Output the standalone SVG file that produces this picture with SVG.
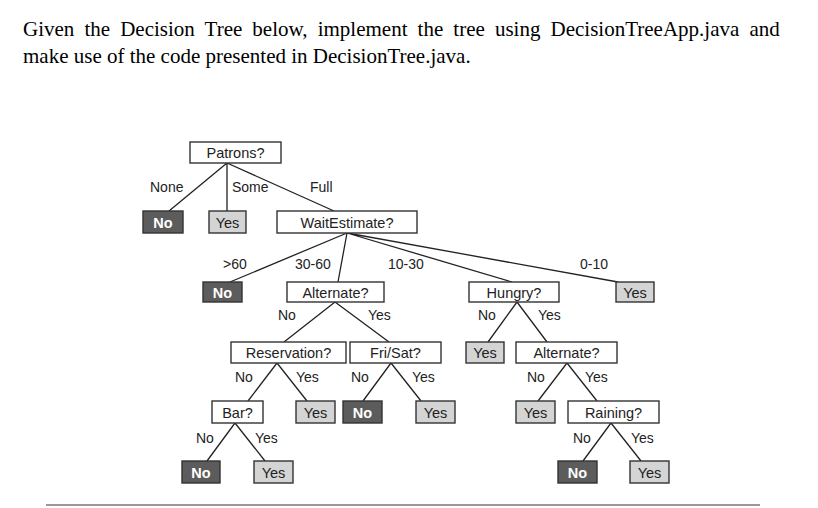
<svg xmlns="http://www.w3.org/2000/svg" width="818" height="508" viewBox="0 0 818 508">
<style>
.title{font-family:"Liberation Serif","Times New Roman",serif;font-size:21px;fill:#000}
.box{stroke:#333;stroke-width:1.4}
.q{fill:#fff}
.no{fill:#5c5c5c}
.yes{fill:#d4d4d4}
.t{font-family:"Liberation Sans",Arial,sans-serif;font-size:14.5px;fill:#222;text-anchor:middle}
.tn{font-family:"Liberation Sans",Arial,sans-serif;font-size:14.5px;fill:#fff;font-weight:bold;text-anchor:middle}
.lbl{font-family:"Liberation Sans",Arial,sans-serif;font-size:14px;fill:#222}
.edge{stroke:#222;stroke-width:1.3;fill:none}
</style>
<rect width="818" height="508" fill="#fff"/>
<text class="title" x="23" y="36" word-spacing="4.85">Given the Decision Tree below, implement the tree using DecisionTreeApp.java and</text>
<text class="title" x="23" y="62.5">make use of the code presented in DecisionTree.java.</text>

<g id="connectors">
<path class="edge" d="M227,163 L169,211 M227,163 L227,211 M227,163 L334,211"/>
<path class="edge" d="M347,233 L230,282 M347,233 L338,282 M347,233 L512,282 M347,233 L618,282"/>
<path class="edge" d="M335,302 L284,342 M335,302 L389,342"/>
<path class="edge" d="M517,302 L488,342 M517,302 L547,342"/>
<path class="edge" d="M277,363 L248,401 M277,363 L307,401"/>
<path class="edge" d="M391,363 L363,401 M391,363 L421,401"/>
<path class="edge" d="M567,363 L538,401 M567,363 L597,401"/>
<path class="edge" d="M235,423 L207,461 M235,423 L265,461"/>
<path class="edge" d="M611,423 L583,461 M611,423 L641,461"/>
<g id="edge-labels">
<text class="lbl" x="150" y="192">None</text>
<text class="lbl" x="232" y="192">Some</text>
<text class="lbl" x="310" y="192">Full</text>
<text class="lbl" x="223" y="268.5">&gt;60</text>
<text class="lbl" x="295" y="268.5">30-60</text>
<text class="lbl" x="388" y="268.5">10-30</text>
<text class="lbl" x="580" y="268.5">0-10</text>
<text class="lbl" x="278" y="320">No</text>
<text class="lbl" x="368" y="320">Yes</text>
<text class="lbl" x="478" y="320">No</text>
<text class="lbl" x="538" y="320">Yes</text>
<text class="lbl" x="235" y="382">No</text>
<text class="lbl" x="296" y="382">Yes</text>
<text class="lbl" x="351" y="382">No</text>
<text class="lbl" x="412" y="382">Yes</text>
<text class="lbl" x="527" y="382">No</text>
<text class="lbl" x="585" y="382">Yes</text>
<text class="lbl" x="196" y="442.5">No</text>
<text class="lbl" x="255" y="442.5">Yes</text>
<text class="lbl" x="573" y="442.5">No</text>
<text class="lbl" x="631" y="442.5">Yes</text>
</g>
</g>

<g id="patrons"><rect class="box q" x="190" y="142" width="91" height="21"/><text class="t" x="235.5" y="158">Patrons?</text></g>
<g id="leaf-none"><rect class="box no" x="143" y="211" width="40" height="22"/><text class="tn" x="163" y="227.5">No</text></g>
<g id="leaf-some"><rect class="box yes" x="209" y="211" width="37" height="22"/><text class="t" x="227.5" y="227.5">Yes</text></g>
<g id="waitestimate"><rect class="box q" x="277" y="211" width="140" height="22"/><text class="t" x="347" y="227.5">WaitEstimate?</text></g>
<g id="leaf-60"><rect class="box no" x="203" y="282" width="39" height="20"/><text class="tn" x="222.5" y="297.5">No</text></g>
<g id="alternate1"><rect class="box q" x="287" y="282" width="97" height="20"/><text class="t" x="335.5" y="297.5">Alternate?</text></g>
<g id="hungry"><rect class="box q" x="469" y="282" width="90" height="20"/><text class="t" x="514" y="297.5">Hungry?</text></g>
<g id="leaf-010"><rect class="box yes" x="616" y="282" width="38" height="20"/><text class="t" x="635" y="297.5">Yes</text></g>
<g id="reservation"><rect class="box q" x="231" y="342" width="115" height="21"/><text class="t" x="288.5" y="358">Reservation?</text></g>
<g id="frisat"><rect class="box q" x="350" y="342" width="91" height="21"/><text class="t" x="395.5" y="358">Fri/Sat?</text></g>
<g id="leaf-hungry-no"><rect class="box yes" x="466" y="342" width="38" height="21"/><text class="t" x="485" y="358">Yes</text></g>
<g id="alternate2"><rect class="box q" x="516" y="342" width="101" height="21"/><text class="t" x="566.5" y="358">Alternate?</text></g>
<g id="bar"><rect class="box q" x="212" y="401" width="51" height="22"/><text class="t" x="237.5" y="417.5">Bar?</text></g>
<g id="leaf-res-yes"><rect class="box yes" x="296" y="401" width="39" height="22"/><text class="t" x="315.5" y="417.5">Yes</text></g>
<g id="leaf-fri-no"><rect class="box no" x="343" y="401" width="39" height="22"/><text class="tn" x="362.5" y="417.5">No</text></g>
<g id="leaf-fri-yes"><rect class="box yes" x="416" y="401" width="39" height="22"/><text class="t" x="435.5" y="417.5">Yes</text></g>
<g id="leaf-alt2-no"><rect class="box yes" x="516" y="401" width="39" height="22"/><text class="t" x="535.5" y="417.5">Yes</text></g>
<g id="raining"><rect class="box q" x="568" y="401" width="91" height="22"/><text class="t" x="613.5" y="417.5">Raining?</text></g>
<g id="leaf-bar-no"><rect class="box no" x="182" y="461" width="38" height="22"/><text class="tn" x="201" y="477.5">No</text></g>
<g id="leaf-bar-yes"><rect class="box yes" x="254" y="461" width="39" height="22"/><text class="t" x="273.5" y="477.5">Yes</text></g>
<g id="leaf-rain-no"><rect class="box no" x="558" y="461" width="39" height="22"/><text class="tn" x="577.5" y="477.5">No</text></g>
<g id="leaf-rain-yes"><rect class="box yes" x="630" y="461" width="39" height="22"/><text class="t" x="649.5" y="477.5">Yes</text></g>

<line x1="46" y1="505" x2="760" y2="505" stroke="#777" stroke-width="1.5"/>
</svg>
